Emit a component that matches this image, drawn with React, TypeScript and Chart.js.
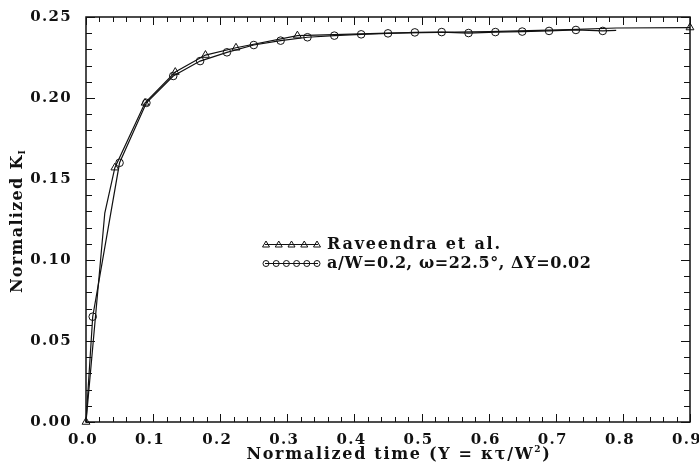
import React, { useEffect, useRef } from "react";
import { Chart, registerables } from "chart.js";

Chart.register(...registerables);

// Raveendra et al. (triangles)
const timeRav = [0, 0.028, 0.043, 0.088, 0.133, 0.178, 0.2235, 0.315, 0.45, 0.6, 0.72, 0.79, 0.9];
const kRav = [0, 0.129, 0.157, 0.197, 0.216, 0.2265, 0.231, 0.2385, 0.24, 0.241, 0.2422, 0.2432, 0.2435];
const ravMarked = [0, 2, 3, 4, 5, 6, 7, 12];

// a/W=0.2, omega=22.5 deg, dT=0.02 (circles)
const timeCirc = [0, 0.01, 0.05, 0.09, 0.13, 0.17, 0.21, 0.25, 0.29, 0.33, 0.37, 0.41, 0.45, 0.49, 0.53, 0.57, 0.61, 0.65, 0.69, 0.73, 0.77, 0.79];
const kCirc = [0, 0.065, 0.16, 0.197, 0.2136, 0.2228, 0.2282, 0.2327, 0.2354, 0.2375, 0.2385, 0.2393, 0.2399, 0.2405, 0.2407, 0.2401, 0.2407, 0.241, 0.2414, 0.242, 0.2414, 0.2418];
const circMarked = [1, 2, 3, 4, 5, 6, 7, 8, 9, 10, 11, 12, 13, 14, 15, 16, 17, 18, 19, 20];

const xMin = 0, xMax = 0.9, xStep = 0.1, xMinor = 0.02;
const yMin = 0, yMax = 0.25, yStep = 0.05, yMinor = 0.01;

const legendLabels = ["Raveendra et al.", "a/W=0.2, \u03C9=22.5\u00B0, \u0394\u03A5=0.02"];

const FONT = "'DejaVu Serif', serif";
const INK = "#111";

function drawRich(ctx: CanvasRenderingContext2D, parts: { t: string; size: number; dy: number }[], x: number, y: number) {
  let total = 0;
  const widths = parts.map((p) => {
    ctx.font = `bold ${p.size}px ${FONT}`;
    const w = ctx.measureText(p.t).width;
    total += w;
    return w;
  });
  let cx = x - total / 2;
  parts.forEach((p, i) => {
    ctx.font = `bold ${p.size}px ${FONT}`;
    ctx.fillText(p.t, cx, y + p.dy);
    cx += widths[i];
  });
}

const decorPlugin = {
  id: "decor",
  beforeDraw(chart: any) {
    (chart.ctx as any).letterSpacing = "1.3px";
  },
  afterDraw(chart: any) {
    const ctx: CanvasRenderingContext2D = chart.ctx;
    const { left, right, top, bottom } = chart.chartArea;
    const xs = chart.scales.x;
    const ys = chart.scales.y;
    ctx.save();
    ctx.strokeStyle = INK;
    ctx.lineWidth = 1.5;
    ctx.strokeRect(left, top, right - left, bottom - top);
    ctx.lineWidth = 1;
    // x ticks
    const nx = Math.round((xMax - xMin) / xMinor);
    for (let i = 0; i <= nx; i++) {
      const v = xMin + i * xMinor;
      const px = Math.round(xs.getPixelForValue(v)) + 0.5;
      const major = i % Math.round(xStep / xMinor) === 0;
      const len = major ? 8 : 5;
      ctx.beginPath();
      ctx.moveTo(px, bottom);
      ctx.lineTo(px, bottom - len);
      ctx.moveTo(px, top);
      ctx.lineTo(px, top + len);
      ctx.stroke();
    }
    const ny = Math.round((yMax - yMin) / yMinor);
    for (let i = 0; i <= ny; i++) {
      const v = yMin + i * yMinor;
      const py = Math.round(ys.getPixelForValue(v)) + 0.5;
      const major = i % Math.round(yStep / yMinor) === 0;
      const len = major ? 9 : 6;
      ctx.beginPath();
      ctx.moveTo(left, py);
      ctx.lineTo(left + len, py);
      ctx.moveTo(right, py);
      ctx.lineTo(right - len, py);
      ctx.stroke();
    }
    // axis titles
    ctx.fillStyle = INK;
    ctx.textBaseline = "alphabetic";
    ctx.textAlign = "left";
    (ctx as any).letterSpacing = "1.7px";
    drawRich(ctx, [
      { t: "Normalized time (\u03A5 = \u03BA\u03C4/W", size: 16, dy: 0 },
      { t: "2", size: 9, dy: -7 },
      { t: ")", size: 16, dy: 0 },
    ], 399, 459);
    ctx.save();
    ctx.translate(22, 221);
    ctx.rotate(-Math.PI / 2);
    (ctx as any).letterSpacing = "1.3px";
    drawRich(ctx, [
      { t: "Normalized K", size: 16, dy: 0 },
      { t: "I", size: 9, dy: 3 },
    ], 0, 0);
    ctx.restore();

    // legend
    const lx0 = left + 179, lx1 = left + 232;
    const rows = [244.5, 263.5];
    const spacing = ["1.8px", "0.6px"];
    ctx.lineWidth = 1;
    rows.forEach((ry, r) => {
      ctx.beginPath();
      ctx.moveTo(lx0, ry);
      ctx.lineTo(lx1, ry);
      ctx.stroke();
      const n = r === 0 ? 5 : 6;
      for (let i = 0; i < n; i++) {
        const mx = lx0 + 1 + (i * (lx1 - lx0 - 2)) / (n - 1);
        ctx.beginPath();
        if (r === 0) {
          ctx.moveTo(mx, ry - 3.5);
          ctx.lineTo(mx + 3.5, ry + 2.5);
          ctx.lineTo(mx - 3.5, ry + 2.5);
          ctx.closePath();
        } else {
          ctx.arc(mx, ry, 3, 0, Math.PI * 2);
        }
        ctx.stroke();
      }
      ctx.font = `bold 16px ${FONT}`;
      (ctx as any).letterSpacing = spacing[r];
      ctx.textBaseline = "middle";
      ctx.fillText(legendLabels[r], lx1 + 9, ry);
    });
    ctx.restore();
  },
};

export default function App() {
  const ref = useRef<HTMLCanvasElement>(null);
  useEffect(() => {
    if (!ref.current) return;
    const chart = new Chart(ref.current, {
      type: "line",
      data: {
        datasets: [
          {
            label: legendLabels[0],
            data: timeRav.map((t, i) => ({ x: t, y: kRav[i] })),
            borderColor: INK,
            borderWidth: 1.2,
            backgroundColor: "rgba(0,0,0,0)",
            pointStyle: "triangle",
            pointRadius: (c: any) => (ravMarked.includes(c.dataIndex) ? 4.5 : 0),
            pointBorderColor: INK,
            pointBorderWidth: 1,
            pointBackgroundColor: "rgba(0,0,0,0)",
            tension: 0,
            clip: false as any,
          },
          {
            label: legendLabels[1],
            data: timeCirc.map((t, i) => ({ x: t, y: kCirc[i] })),
            borderColor: INK,
            borderWidth: 1.2,
            backgroundColor: "rgba(0,0,0,0)",
            pointStyle: "circle",
            pointRadius: (c: any) => (circMarked.includes(c.dataIndex) ? 3.8 : 0),
            pointBorderColor: INK,
            pointBorderWidth: 1,
            pointBackgroundColor: "rgba(0,0,0,0)",
            tension: 0,
            clip: false as any,
          },
        ],
      },
      options: {
        responsive: false,
        animation: false,
        layout: { padding: { left: 0, right: 9, top: 17, bottom: 0 }, autoPadding: false } as any,
        plugins: { legend: { display: false }, tooltip: { enabled: false } },
        scales: {
          x: {
            type: "linear",
            min: xMin,
            max: xMax,
            grid: { display: false, drawTicks: false },
            border: { display: false },
            ticks: {
              stepSize: xStep,
              padding: 9,
              labelOffset: -3,
              maxRotation: 0,
              color: INK,
              font: { family: FONT, weight: "bold", size: 15 },
              callback: (v: any) => Number(v).toFixed(1),
            },
            afterFit: (s: any) => {
              s.height = 46;
              s.paddingLeft = 0;
              s.paddingRight = 0;
            },
          },
          y: {
            type: "linear",
            min: yMin,
            max: yMax,
            grid: { display: false, drawTicks: false },
            border: { display: false },
            ticks: {
              stepSize: yStep,
              padding: 14,
              color: INK,
              font: { family: FONT, weight: "bold", size: 15 },
              callback: (v: any) => Number(v).toFixed(2),
            },
            afterFit: (s: any) => {
              s.width = 86;
              s.paddingTop = 0;
              s.paddingBottom = 0;
            },
          },
        },
      },
      plugins: [decorPlugin],
    } as any);
    return () => chart.destroy();
  }, []);
  return (
    <div style={{ position: "fixed", left: 0, top: 0, width: 699, height: 468, background: "#fff" }}>
      <canvas ref={ref} width={699} height={468} style={{ display: "block" }} />
    </div>
  );
}
